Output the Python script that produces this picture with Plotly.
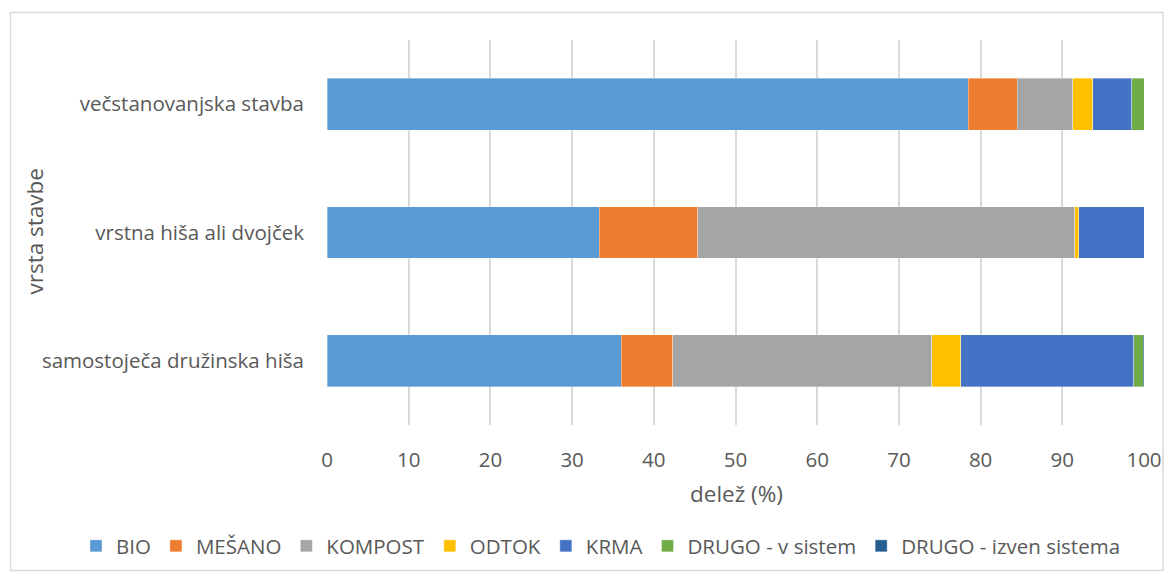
import plotly.graph_objects as go

categories = ["samostoječa družinska hiša", "vrstna hiša ali dvojček", "večstanovanjska stavba"]
series_names = ["BIO", "MEŠANO", "KOMPOST", "ODTOK", "KRMA", "DRUGO - v sistem", "DRUGO - izven sistema"]
bio = [36.0, 33.3, 78.5]
mesano = [6.3, 12.1, 6.0]
kompost = [31.75, 46.1, 6.8]
odtok = [3.5, 0.5, 2.45]
krma = [21.2, 8.0, 4.75]
drugo_v = [1.15, 0.0, 1.5]
drugo_izven = [0.1, 0.0, 0.0]
colors = ["#5B9BD5", "#ED7D31", "#A5A5A5", "#FFC000", "#4472C4", "#70AD47", "#255E91"]
x_ticks = [0, 10, 20, 30, 40, 50, 60, 70, 80, 90, 100]

values = [bio, mesano, kompost, odtok, krma, drugo_v, drugo_izven]
FONT = "Open Sans"
TXT = "#595959"

fig = go.Figure()
for name, vals, col in zip(series_names, values, colors):
    fig.add_trace(go.Bar(
        y=categories, x=vals, name=name, orientation="h",
        marker=dict(color=col, line=dict(color="rgba(255,255,255,0.5)", width=0.7)),
    ))

# page is offset by 8px body margin
OFF = 8
W, H = 1165, 569
L, R, T, B = 319, 29, 32, 151
pw, ph = W - L - R, H - T - B

def px_x(px):  # page pixel -> paper
    return (px - OFF - L) / pw

def px_y(py):
    return (H - B - (py - OFF)) / ph

fig.update_layout(
    barmode="stack",
    bargap=0.595,
    width=W, height=H,
    margin=dict(l=L, r=R, t=T, b=B),
    paper_bgcolor="white", plot_bgcolor="white",
    font=dict(family=FONT, size=20, color=TXT),
    showlegend=True,
    legend=dict(orientation="h", x=px_x(76), xanchor="left",
                y=px_y(546), yanchor="middle",
                font=dict(size=20.5, color=TXT),
                traceorder="normal"),
    xaxis=dict(range=[0, 100], tickvals=x_ticks, showgrid=True, gridcolor="#D9D9D9",
               gridwidth=1.5, zeroline=False, showline=False, ticks="",
               ticklabelstandoff=20, tickfont=dict(size=20.5)),
    yaxis=dict(categoryorder="array", categoryarray=categories, showgrid=False,
               zeroline=False, showline=False, ticks="", ticklabelstandoff=22,
               tickfont=dict(size=20.5)),
    annotations=[
        dict(text="delež (%)", xref="paper", yref="paper", x=px_x(736), y=px_y(495),
             xanchor="center", yanchor="middle", showarrow=False,
             font=dict(size=22.5, color=TXT)),
        dict(text="vrsta stavbe", xref="paper", yref="paper", x=px_x(35), y=px_y(232),
             xanchor="center", yanchor="middle", showarrow=False, textangle=-90,
             font=dict(size=22.5, color=TXT)),
    ],
    shapes=[dict(type="rect", xref="paper", yref="paper",
                 x0=px_x(10.5), x1=px_x(1163),
                 y0=px_y(572), y1=px_y(12.5),
                 line=dict(color="#D9D9D9", width=1.5), fillcolor="rgba(0,0,0,0)", layer="below")],
)

fig.write_html("out.html")
